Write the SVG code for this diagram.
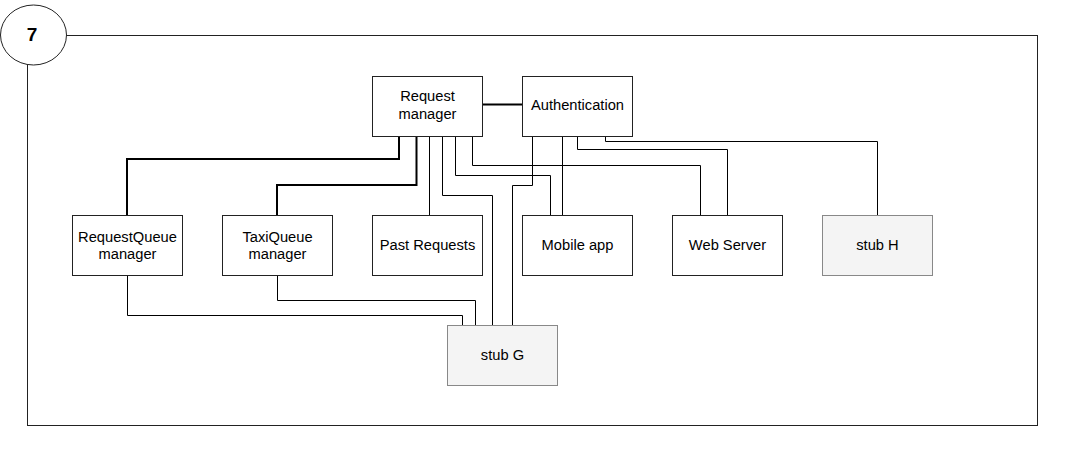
<svg xmlns="http://www.w3.org/2000/svg" width="1080" height="462" viewBox="0 0 1080 462">
<style>
.box{fill:#fff;stroke:#222;stroke-width:1}
.stub{fill:#f4f4f4;stroke:#888;stroke-width:1}
.t{font-family:"Liberation Sans",Arial,sans-serif;font-size:14.7px;fill:#000;text-anchor:middle}
.c{fill:none;stroke:#000;stroke-width:1}
.ck{fill:none;stroke:#000;stroke-width:2}
</style>
<rect width="1080" height="462" fill="#fff"/>
<g id="frame">
<rect x="27.5" y="35.5" width="1010" height="390" fill="none" stroke="#222" stroke-width="1"/>
<ellipse cx="33.5" cy="35" rx="33" ry="30" fill="#fff" stroke="#222" stroke-width="1"/>
<text x="32" y="41" font-family="Liberation Sans,Arial,sans-serif" font-size="19" font-weight="bold" text-anchor="middle">7</text>
</g>
<g id="connectors">
<path class="ck" d="M482.5 104.5H522.5"/>
<path class="ck" d="M399 136V159H127V215"/>
<path class="ck" d="M416.5 136V185H277V215"/>
<path class="c" d="M429.5 136V215"/>
<path class="c" d="M442.5 136V195.5H492.5V325"/>
<path class="c" d="M455.5 136V175.5H550.5V215"/>
<path class="c" d="M472.5 136V165.5H700.5V215"/>
<path class="c" d="M532.5 136V185.5H512.5V325"/>
<path class="c" d="M562.5 136V215"/>
<path class="c" d="M577.5 136V149.5H727.5V215"/>
<path class="c" d="M605.5 136V141.5H877.5V215"/>
<path class="c" d="M127.5 275V315.5H462.5V325"/>
<path class="c" d="M277.5 275V300.5H475.5V325"/>
</g>
<g id="request-manager">
<rect class="box" x="372.5" y="76.5" width="110" height="60"/>
<text class="t" x="427.5" y="101">Request</text>
<text class="t" x="427.5" y="119">manager</text>
</g>
<g id="authentication">
<rect class="box" x="522.5" y="76.5" width="110" height="60"/>
<text class="t" x="577.5" y="110">Authentication</text>
</g>
<g id="requestqueue-manager">
<rect class="box" x="72.5" y="215.5" width="110" height="60"/>
<text class="t" x="127.5" y="242">RequestQueue</text>
<text class="t" x="127.5" y="259">manager</text>
</g>
<g id="taxiqueue-manager">
<rect class="box" x="222.5" y="215.5" width="110" height="60"/>
<text class="t" x="277.5" y="242">TaxiQueue</text>
<text class="t" x="277.5" y="259">manager</text>
</g>
<g id="past-requests">
<rect class="box" x="372.5" y="215.5" width="110" height="60"/>
<text class="t" x="427.5" y="250">Past Requests</text>
</g>
<g id="mobile-app">
<rect class="box" x="522.5" y="215.5" width="110" height="60"/>
<text class="t" x="577.5" y="250">Mobile app</text>
</g>
<g id="web-server">
<rect class="box" x="672.5" y="215.5" width="110" height="60"/>
<text class="t" x="727.5" y="250">Web Server</text>
</g>
<g id="stub-h">
<rect class="stub" x="822.5" y="215.5" width="110" height="60"/>
<text class="t" x="877.5" y="250">stub H</text>
</g>
<g id="stub-g">
<rect class="stub" x="447.5" y="325.5" width="110" height="60"/>
<text class="t" x="502.5" y="360">stub G</text>
</g>
</svg>
